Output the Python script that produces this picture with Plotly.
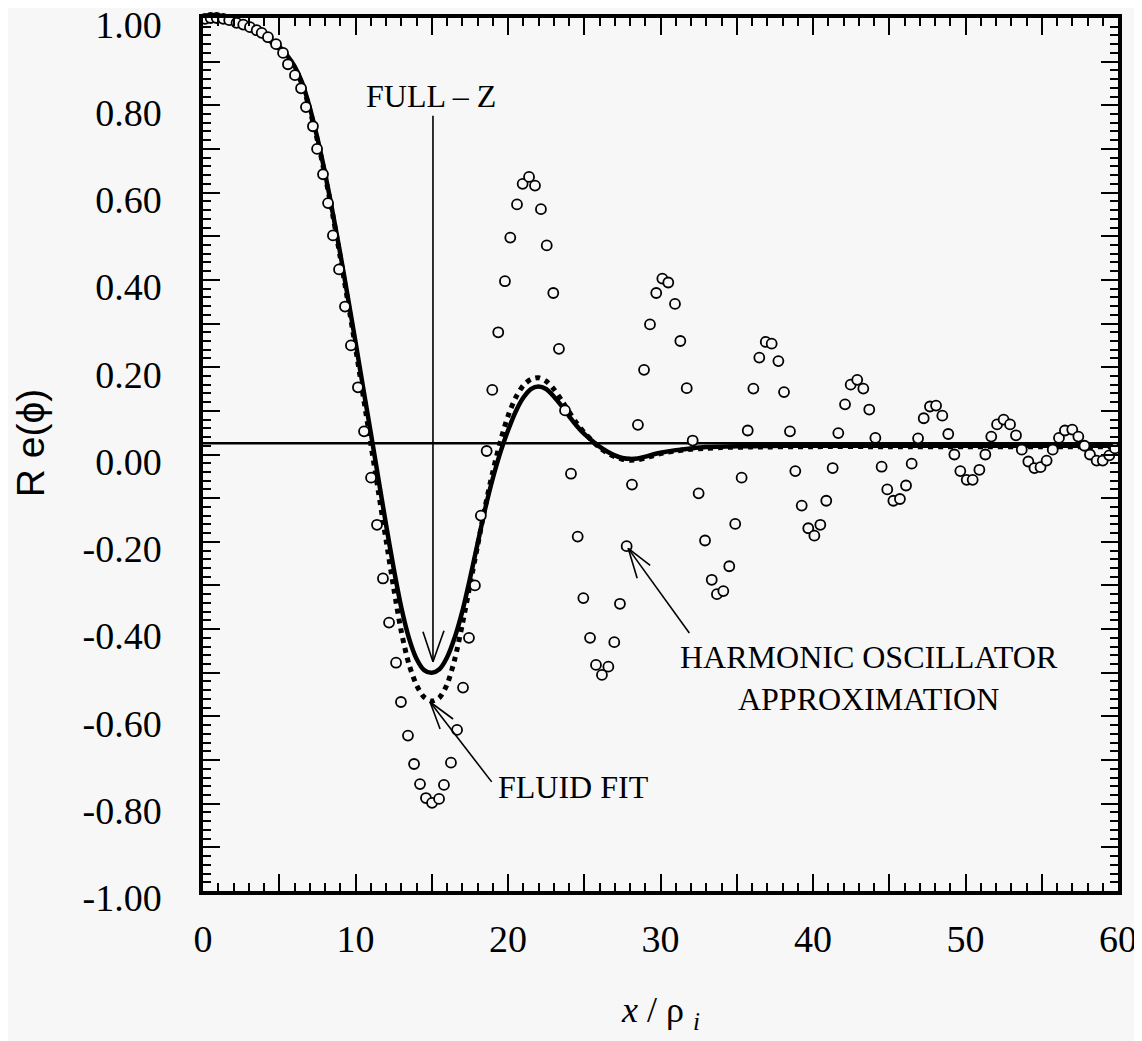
import plotly.graph_objects as go

# ---------------- data ----------------
FULLZ_X = [0, 1, 2, 3, 4, 5, 5.5, 6, 6.5, 7, 7.5, 8, 8.5, 9, 9.5, 10, 10.5, 11, 11.5, 12,
           12.5, 13, 13.5, 14, 14.5, 15, 15.5, 16, 16.5, 17, 17.5, 18, 18.5, 19, 19.5, 20,
           20.5, 21, 21.5, 22, 22.5, 23, 23.5, 24, 24.5, 25, 25.5, 26, 26.5, 27, 27.5, 28,
           28.5, 29, 29.5, 30, 31, 32, 33, 34, 35, 36, 38, 40, 45, 50, 55, 60]
FULLZ_Y = [1.0, 0.999, 0.992, 0.98, 0.962, 0.935, 0.915, 0.89, 0.852, 0.795, 0.725, 0.645,
           0.555, 0.46, 0.36, 0.258, 0.153, 0.05, -0.055, -0.16, -0.26, -0.35, -0.42, -0.468,
           -0.494, -0.50, -0.492, -0.465, -0.42, -0.36, -0.285, -0.205, -0.125, -0.055, 0.005,
           0.055, 0.098, 0.13, 0.15, 0.156, 0.15, 0.133, 0.112, 0.088, 0.066, 0.047, 0.032,
           0.018, 0.007, -0.002, -0.008, -0.01, -0.009, -0.005, 0.0, 0.004, 0.01, 0.014,
           0.017, 0.018, 0.019, 0.019, 0.02, 0.02, 0.02, 0.02, 0.02, 0.02]

FLUID_X = [0, 1, 2, 3, 4, 5, 5.5, 6, 6.5, 7, 7.5, 8, 8.5, 9, 9.5, 10, 10.5, 11, 11.5, 12,
           12.5, 13, 13.5, 14, 14.5, 15, 15.5, 16, 16.5, 17, 17.5, 18, 18.5, 19, 19.5, 20,
           20.5, 21, 21.5, 22, 22.5, 23, 23.5, 24, 24.5, 25, 25.5, 26, 26.5, 27, 27.5, 28,
           28.5, 29, 29.5, 30, 31, 32, 33, 34, 36, 40, 45, 50, 55, 60]
FLUID_Y = [1.0, 0.998, 0.99, 0.977, 0.958, 0.93, 0.91, 0.883, 0.848, 0.79, 0.72, 0.64,
           0.55, 0.452, 0.35, 0.245, 0.135, 0.025, -0.085, -0.195, -0.305, -0.405, -0.48,
           -0.528, -0.556, -0.565, -0.557, -0.527, -0.47, -0.39, -0.30, -0.21, -0.12, -0.04,
           0.03, 0.088, 0.13, 0.158, 0.172, 0.176, 0.168, 0.15, 0.125, 0.098, 0.072, 0.05,
           0.032, 0.016, 0.004, -0.005, -0.011, -0.013, -0.012, -0.008, -0.003, 0.002, 0.008,
           0.012, 0.014, 0.016, 0.017, 0.018, 0.018, 0.018, 0.018, 0.018]

HO_X = [0.13, 0.5, 0.9, 1.33, 1.72, 2.2, 2.64, 3.08, 3.52, 3.85, 4.26, 4.79, 5.25, 5.57,
        6.03, 6.43, 6.75, 7.21, 7.48, 7.87, 8.20, 8.52, 8.92, 9.31, 9.70, 10.16, 10.56,
        11.02, 11.41, 11.80, 12.20, 12.66, 12.98, 13.44, 13.84, 14.23, 14.62, 15.02, 15.48,
        15.80, 16.26, 16.66, 17.05, 17.44, 17.83, 18.22, 18.60, 18.97, 19.36, 19.80, 20.15,
        20.59, 20.96, 21.38, 21.77, 22.16, 22.54, 22.97, 23.34, 23.74, 24.13, 24.57, 24.94,
        25.38, 25.77, 26.16, 26.58, 26.97, 27.34, 27.78, 28.13, 28.52, 28.92, 29.31, 29.72,
        30.12, 30.51, 30.95, 31.30, 31.72, 32.11, 32.50, 32.92, 33.36, 33.70, 34.12, 34.51,
        34.90, 35.32, 35.72, 36.09, 36.48, 36.90, 37.29, 37.73, 38.10, 38.49, 38.84, 39.26,
        39.69, 40.09, 40.48, 40.87, 41.29, 41.66, 42.10, 42.47, 42.90, 43.30, 43.69, 44.09,
        44.50, 44.87, 45.27, 45.70, 46.10, 46.47, 46.89, 47.26, 47.67, 48.07, 48.48, 48.87,
        49.27, 49.66, 50.08, 50.47, 50.91, 51.30, 51.69, 52.07, 52.50, 52.92, 53.31, 53.69,
        54.12, 54.52, 54.92, 55.32, 55.72, 56.13, 56.52, 57.0, 57.40, 57.8, 58.16, 58.60,
        59.0, 59.43, 59.80]
HO_Y = [0.998, 1.0, 1.0, 0.998, 0.995, 0.989, 0.985, 0.979, 0.972, 0.966, 0.956, 0.940,
        0.920, 0.894, 0.869, 0.839, 0.796, 0.752, 0.700, 0.642, 0.576, 0.502, 0.424, 0.339,
        0.250, 0.154, 0.053, -0.053, -0.161, -0.284, -0.385, -0.477, -0.567, -0.644, -0.709,
        -0.755, -0.787, -0.798, -0.789, -0.757, -0.706, -0.631, -0.534, -0.420, -0.30,
        -0.14, 0.008, 0.148, 0.280, 0.397, 0.497, 0.573, 0.620, 0.636, 0.616, 0.562, 0.479,
        0.370, 0.242, 0.101, -0.044, -0.188, -0.329, -0.420, -0.482, -0.505, -0.486, -0.430,
        -0.342, -0.210, -0.069, 0.068, 0.194, 0.298, 0.370, 0.403, 0.394, 0.345, 0.260,
        0.152, 0.032, -0.089, -0.197, -0.287, -0.320, -0.313, -0.256, -0.159, -0.053, 0.055,
        0.151, 0.222, 0.258, 0.254, 0.214, 0.143, 0.053, -0.038, -0.117, -0.169, -0.186,
        -0.161, -0.106, -0.031, 0.049, 0.115, 0.160, 0.171, 0.151, 0.103, 0.038, -0.028,
        -0.080, -0.106, -0.102, -0.071, -0.021, 0.037, 0.083, 0.110, 0.112, 0.089, 0.047,
        0.0, -0.038, -0.058, -0.058, -0.035, 0.0, 0.041, 0.069, 0.080, 0.069, 0.044, 0.011,
        -0.016, -0.031, -0.029, -0.014, 0.011, 0.038, 0.055, 0.057, 0.041, 0.02, 0.0, -0.014,
        -0.014, -0.002, 0.014]

BASELINE = 0.026

X_TICK_VALS = [0, 5, 10, 15, 20, 25, 30, 35, 40, 45, 50, 55, 60]
X_TICK_TEXT = ["0", "", "10", "", "20", "", "30", "", "40", "", "50", "", "60"]
Y_TICK_VALS = [-1.0, -0.9, -0.8, -0.7, -0.6, -0.5, -0.4, -0.3, -0.2, -0.1, 0.0,
               0.1, 0.2, 0.3, 0.4, 0.5, 0.6, 0.7, 0.8, 0.9, 1.0]
Y_TICK_TEXT = ["-1.00", "", "-0.80", "", "-0.60", "", "-0.40", "", "-0.20", "", "0.00",
               "", "0.20", "", "0.40", "", "0.60", "", "0.80", "", "1.00"]

# ---------------- figure ----------------
BG = "#f7f7f7"
SERIF = "Liberation Serif, Times New Roman, serif"
SANS = "Liberation Sans, Arial, sans-serif"

fig = go.Figure()
fig.add_trace(go.Scatter(x=FULLZ_X, y=FULLZ_Y, mode="lines", name="FULL - Z",
                         line=dict(color="black", width=4.5, shape="spline", smoothing=0.8)))
fig.add_trace(go.Scatter(x=FLUID_X, y=FLUID_Y, mode="lines", name="FLUID FIT",
                         line=dict(color="black", width=5, dash="dot", shape="spline",
                                   smoothing=0.8)))
fig.add_trace(go.Scatter(x=HO_X, y=HO_Y, mode="markers", name="HARMONIC OSCILLATOR",
                         cliponaxis=False,
                         marker=dict(symbol="circle", size=10, color=BG,
                                     line=dict(color="black", width=1.8))))

fig.add_hline(y=BASELINE, line=dict(color="black", width=2.5), layer="below")

axis_common = dict(ticks="inside", ticklen=17, tickwidth=2, tickcolor="black",
                   showline=True, linewidth=3.5, linecolor="black", mirror="allticks",
                   showgrid=False, zeroline=False, ticklabeloverflow="allow",
                   automargin=False,
                   tickfont=dict(family=SERIF, size=38, color="black"))

fig.update_xaxes(range=[0, 60], tickmode="array", tickvals=X_TICK_VALS, ticktext=X_TICK_TEXT,
                 minor=dict(tickmode="linear", tick0=0, dtick=1, ticks="inside", ticklen=8,
                            tickwidth=2, tickcolor="black"),
                 ticklabelstandoff=12, **axis_common)
fig.update_yaxes(range=[-1, 1], tickmode="array", tickvals=Y_TICK_VALS, ticktext=Y_TICK_TEXT,
                 minor=dict(tickmode="linear", tick0=-1, dtick=0.02, ticks="inside", ticklen=8,
                            tickwidth=2, tickcolor="black"),
                 ticklabelstandoff=30, ticklabelshift=7, **axis_common)

ann = []
TXT = dict(family=SERIF, size=32, color="black")
ann.append(dict(x=14.94, y=0.822, xref="x", yref="y", text="FULL \u2013 Z", showarrow=False,
                font=TXT, xanchor="center", yanchor="middle"))
ann.append(dict(x=24.32, y=-0.762, xref="x", yref="y", text="FLUID FIT", showarrow=False,
                font=TXT, xanchor="center", yanchor="middle"))
ann.append(dict(x=43.7, y=-0.511, xref="x", yref="y",
                text="HARMONIC OSCILLATOR<br>APPROXIMATION", align="center",
                showarrow=False, font=TXT, xanchor="center", yanchor="middle"))

# axis titles
ann.append(dict(x=-0.189, y=0.513, xref="paper", yref="paper", text="R e(\u03d5)",
                textangle=-90, showarrow=False, xanchor="center", yanchor="middle",
                font=dict(family=SANS, size=39, color="black")))
ann.append(dict(x=0.5, y=-0.139, xref="paper", yref="paper",
                text="<i>x</i> / \u03c1 <sub><i>i</i></sub>", showarrow=False,
                xanchor="center", yanchor="middle",
                font=dict(family=SERIF, size=36, color="black")))

# arrows: shaft (data to data) + two open-V arms (pixel offsets on screen, y down)
ARROWS = [
    ((15.08, -0.475), (15.08, 0.776), [(-10, -30), (11, -31)]),
    ((14.89, -0.567), (18.93, -0.750), [(10, 27), (23, 17)]),
    ((27.88, -0.215), (31.89, -0.409), [(9, 30), (22, 17)]),
]
shapes = []
LN = dict(color="black", width=1.6)
for (tx, ty), (sx, sy), arms in ARROWS:
    shapes.append(dict(type="line", xref="x", yref="y", x0=tx, y0=ty, x1=sx, y1=sy, line=LN))
    for dx, dy in arms:
        shapes.append(dict(type="line", xref="x", yref="y", xsizemode="pixel",
                           ysizemode="pixel", xanchor=tx, yanchor=ty,
                           x0=0, y0=0, x1=dx, y1=-dy, line=LN))

# the page body adds an 8px margin, so the figure is sized to fit the window
fig.update_layout(width=1134, height=1033, margin=dict(l=195, r=24, t=10, b=150),
                  paper_bgcolor=BG, plot_bgcolor=BG, showlegend=False,
                  annotations=ann, shapes=list(fig.layout.shapes) + shapes)

fig.write_html("out.html")
